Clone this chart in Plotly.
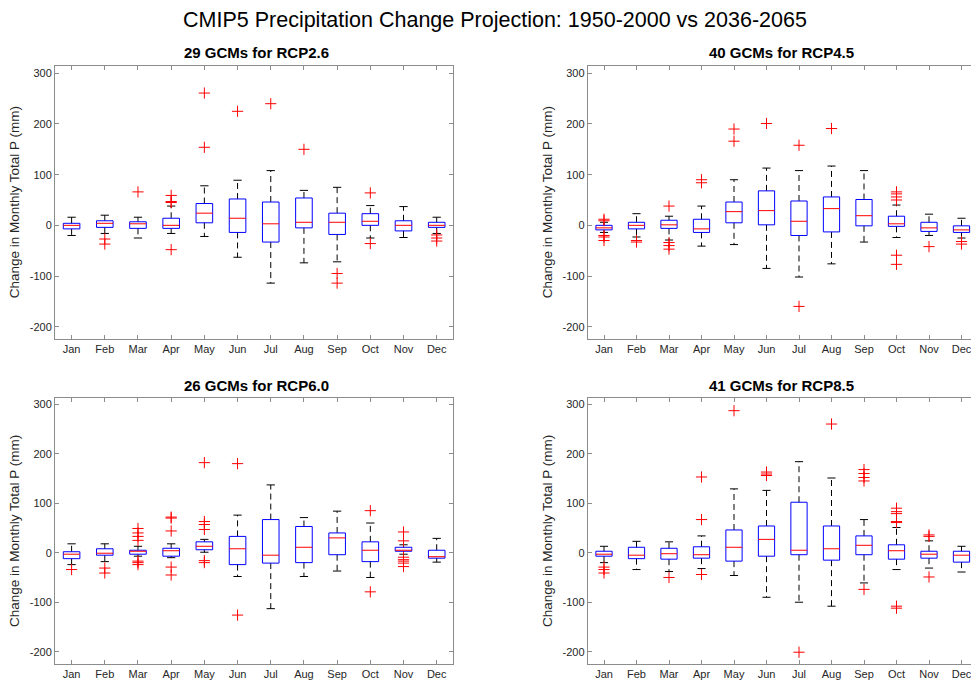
import plotly.graph_objects as go

months = ["Jan", "Feb", "Mar", "Apr", "May", "Jun", "Jul", "Aug", "Sep", "Oct", "Nov", "Dec"]
yticks = [-200, -100, 0, 100, 200, 300]

main_title = "CMIP5 Precipitation Change Projection: 1950-2000 vs 2036-2065"
panel_titles = ["29 GCMs for RCP2.6", "40 GCMs for RCP4.5", "26 GCMs for RCP6.0", "41 GCMs for RCP8.5"]
y_label = "Change in Monthly Total P (mm)"

# ---- RCP2.6 ----
rcp26_lw = [-20, -16, -25, -16, -22, -63, -114, -74, -72, -25, -24, -16]
rcp26_q1 = [-7, -4, -6, -6, 5, -14, -33, -5, -18, 0, -11, -4]
rcp26_med = [0, 4, 3, 0, 24, 14, 3, 6, 6, 8, 0, 0]
rcp26_q3 = [4, 9, 7, 14, 43, 52, 46, 54, 24, 23, 9, 6]
rcp26_uw = [16, 20, 16, 38, 78, 89, 108, 69, 75, 39, 37, 16]
rcp26_out = [[], [-27, -37], [66], [59, 47, 45, -48], [261, 154], [225], [240], [150],
             [-95, -114], [64, -36], [], [-19, -25, -31]]

# ---- RCP4.5 ----
rcp45_lw = [-14, -23, -29, -41, -38, -85, -102, -76, -33, -24, -20, -25]
rcp45_q1 = [-9, -7, -6, -14, 5, 1, -20, -13, -1, -2, -12, -14]
rcp45_med = [-5, 0, 1, -7, 27, 29, 8, 33, 19, 3, -5, -9]
rcp45_q3 = [0, 6, 10, 12, 46, 68, 48, 56, 51, 18, 6, -1]
rcp45_uw = [6, 23, 18, 38, 90, 113, 108, 117, 108, 40, 22, 14]
rcp45_out = [[12, 9, -20, -23, -30], [-30, -33], [38, -34, -40, -47], [90, 84], [190, 166],
             [201], [158, -160], [191], [], [66, 62, 56, 50, -59, -77], [-42], [-32, -37]]

# ---- RCP6.0 ----
rcp60_lw = [-24, -18, -7, -10, 1, -48, -113, -48, -37, -50, -3, -19]
rcp60_q1 = [-12, -5, -3, -7, 6, -24, -21, -20, -4, -18, 3, -11]
rcp60_med = [-3, -1, 3, 4, 13, 8, -5, 11, 30, 5, 5, -8]
rcp60_q3 = [2, 8, 5, 9, 22, 33, 67, 53, 40, 22, 11, 5]
rcp60_uw = [18, 18, 13, 18, 27, 76, 137, 71, 84, 60, 16, 29]
rcp60_out = [[-34], [-31, -41], [49, 40, 33, 25, -17, -20, -24], [72, 70, 44, -29, -45],
             [182, 63, 57, 47, -16, -20], [180, -126], [], [], [], [85, -79],
             [42, 24, -9, -14, -17, -21, -28], []]

# ---- RCP8.5 ----
rcp85_lw = [-20, -34, -38, -32, -46, -90, -100, -108, -61, -34, -31, -39]
rcp85_q1 = [-7, -12, -13, -11, -17, -7, -4, -15, -4, -13, -11, -19]
rcp85_med = [-3, -5, -2, -4, 11, 27, 5, 8, 15, 4, -3, -5]
rcp85_q3 = [3, 11, 9, 12, 46, 54, 102, 54, 34, 16, 3, 3]
rcp85_uw = [13, 23, 22, 34, 129, 126, 184, 151, 67, 51, 24, 13]
rcp85_out = [[-29, -34, -41], [], [-50], [153, 67, -44], [287], [163, 159, 156], [-201], [260],
             [168, 160, 152, 145, -74], [90, 83, 79, 63, 61, -108, -112], [36, 33, -49], []]

panels = [
    (rcp26_lw, rcp26_q1, rcp26_med, rcp26_q3, rcp26_uw, rcp26_out),
    (rcp45_lw, rcp45_q1, rcp45_med, rcp45_q3, rcp45_uw, rcp45_out),
    (rcp60_lw, rcp60_q1, rcp60_med, rcp60_q3, rcp60_uw, rcp60_out),
    (rcp85_lw, rcp85_q1, rcp85_med, rcp85_q3, rcp85_uw, rcp85_out),
]

W, H = 971, 684
# pixel geometry (left, right, top, bottom)
geo = [
    (55, 453.3, 66, 338.7),
    (587.75, 971, 66, 338.7),
    (55, 453.3, 398.3, 663.7),
    (587.75, 971, 398.3, 663.7),
]
xranges = [[0.5, 12.5], [0.5, 0.5 + (971 - 587.75) / 32.5], [0.5, 12.5], [0.5, 0.5 + (971 - 587.75) / 32.5]]
yranges = [[-223.7, 314.4], [-223.7, 314.4], [-224.2, 312], [-224.2, 312]]
title_cx = [256, 781.5, 256, 781.5]
ylab_x = [14, 547, 14, 547]

fig = go.Figure()
AX = "#8c8c8c"
TXT = "#262626"
bw = 0.25
cw = 0.125

layout = dict(width=W, height=H, margin=dict(l=0, r=0, t=0, b=0),
              paper_bgcolor="white", plot_bgcolor="white", showlegend=False,
              font=dict(family="Liberation Sans, Arial, sans-serif", color=TXT, size=11))
annotations = []

for k, (lw, q1, med, q3, uw, outs) in enumerate(panels):
    n = k + 1
    xa = "x" if n == 1 else f"x{n}"
    ya = "y" if n == 1 else f"y{n}"
    pos = list(range(1, len(months) + 1))
    bx, by, mx, my, wx, wy, cx, cy, ox, oy = [], [], [], [], [], [], [], [], [], []
    for i, p in enumerate(pos):
        bx += [p - bw, p + bw, p + bw, p - bw, p - bw, None]
        by += [q1[i], q1[i], q3[i], q3[i], q1[i], None]
        mx += [p - bw, p + bw, None]
        my += [med[i], med[i], None]
        wx += [p, p, None, p, p, None]
        wy += [q3[i], uw[i], None, q1[i], lw[i], None]
        cx += [p - cw, p + cw, None, p - cw, p + cw, None]
        cy += [uw[i], uw[i], None, lw[i], lw[i], None]
        for v in outs[i]:
            ox.append(p)
            oy.append(v)
    fig.add_trace(go.Scatter(x=wx, y=wy, mode="lines", line=dict(color="black", width=1, dash="6px,4px"),
                             xaxis=xa, yaxis=ya, hoverinfo="skip"))
    fig.add_trace(go.Scatter(x=cx, y=cy, mode="lines", line=dict(color="black", width=1),
                             xaxis=xa, yaxis=ya, hoverinfo="skip"))
    fig.add_trace(go.Scatter(x=bx, y=by, mode="lines", line=dict(color="#0000ff", width=1),
                             xaxis=xa, yaxis=ya, hoverinfo="skip"))
    fig.add_trace(go.Scatter(x=mx, y=my, mode="lines", line=dict(color="#ff0000", width=1),
                             xaxis=xa, yaxis=ya, hoverinfo="skip"))
    fig.add_trace(go.Scatter(x=ox, y=oy, mode="markers",
                             marker=dict(symbol="cross-thin", size=8, line=dict(color="#ff0000", width=1)),
                             xaxis=xa, yaxis=ya, hoverinfo="skip"))

    l, r, t, b = geo[k]
    right_cut = (k % 2 == 1)
    layout["xaxis" if n == 1 else f"xaxis{n}"] = dict(
        domain=[l / W, r / W], range=xranges[k], anchor=ya,
        tickmode="array", tickvals=pos, ticktext=months, ticklabeloverflow="allow",
        ticks="inside", ticklen=4, tickcolor=AX, showline=True, linecolor=AX, linewidth=1,
        mirror="ticks", showgrid=False, zeroline=False, tickfont=dict(size=11, color=TXT))
    layout["yaxis" if n == 1 else f"yaxis{n}"] = dict(
        domain=[1 - b / H, 1 - t / H], range=yranges[k], anchor=xa,
        tickmode="array", tickvals=yticks, ticktext=[str(v) for v in yticks],
        ticks="inside", ticklen=4, tickcolor=AX, showline=True, linecolor=AX, linewidth=1,
        mirror=False if right_cut else "ticks", showgrid=False, zeroline=False,
        tickfont=dict(size=11, color=TXT))
    annotations.append(dict(text="<b>" + panel_titles[k] + "</b>", xref="paper", yref="paper",
                            x=title_cx[k] / W, y=1 - (t - 13) / H, xanchor="center", yanchor="middle",
                            showarrow=False, font=dict(size=15, color="black")))
    annotations.append(dict(text=y_label, xref="paper", yref="paper", textangle=-90,
                            x=ylab_x[k] / W, y=1 - ((t + b) / 2) / H, xanchor="center", yanchor="middle",
                            showarrow=False, font=dict(size=13.5, color=TXT)))

annotations.append(dict(text=main_title, xref="paper", yref="paper", x=495 / W, y=1 - 20 / H,
                        xanchor="center", yanchor="middle", showarrow=False,
                        font=dict(size=21.5, color="black")))
layout["annotations"] = annotations
fig.update_layout(**layout)
fig.write_html("out.html")
